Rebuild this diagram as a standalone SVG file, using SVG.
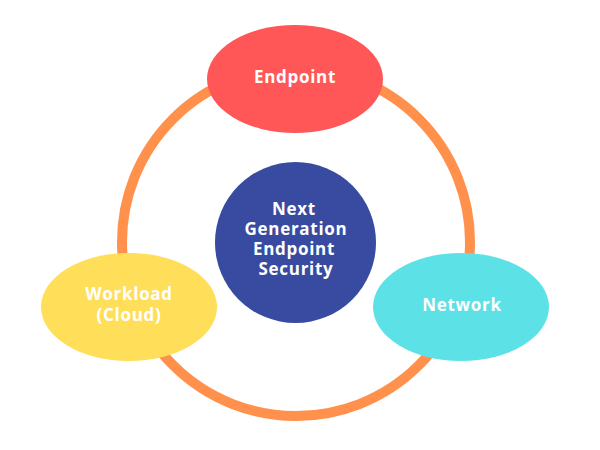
<svg xmlns="http://www.w3.org/2000/svg" width="600" height="450" viewBox="0 0 600 450">
<style>
.lbl{font-family:"Open Sans","Liberation Sans",sans-serif;font-weight:bold;font-size:17px;fill:#ffffff;text-anchor:middle;letter-spacing:0.7px}
</style>
<rect width="600" height="450" fill="#ffffff"/>
<g id="connectors">
<circle cx="296" cy="242" r="174" fill="none" stroke="#FF914D" stroke-width="10"/>
</g>
<g id="endpoint">
<ellipse cx="295" cy="79" rx="88" ry="54" fill="#FF5757"/>
<text class="lbl" x="295" y="83">Endpoint</text>
</g>
<g id="center">
<circle cx="295.5" cy="242.5" r="80.5" fill="#384BA1"/>
<text class="lbl" x="294" y="215">Next</text>
<text class="lbl" x="296" y="235">Generation</text>
<text class="lbl" x="294" y="255">Endpoint</text>
<text class="lbl" x="296" y="275">Security</text>
</g>
<g id="workload">
<ellipse cx="129" cy="307" rx="88" ry="54" fill="#FFDE59"/>
<text class="lbl" x="129" y="300">Workload</text>
<text class="lbl" x="129" y="321">(Cloud)</text>
</g>
<g id="network">
<ellipse cx="461" cy="307" rx="88" ry="54" fill="#5CE1E6"/>
<text class="lbl" x="462" y="311">Network</text>
</g>
</svg>
